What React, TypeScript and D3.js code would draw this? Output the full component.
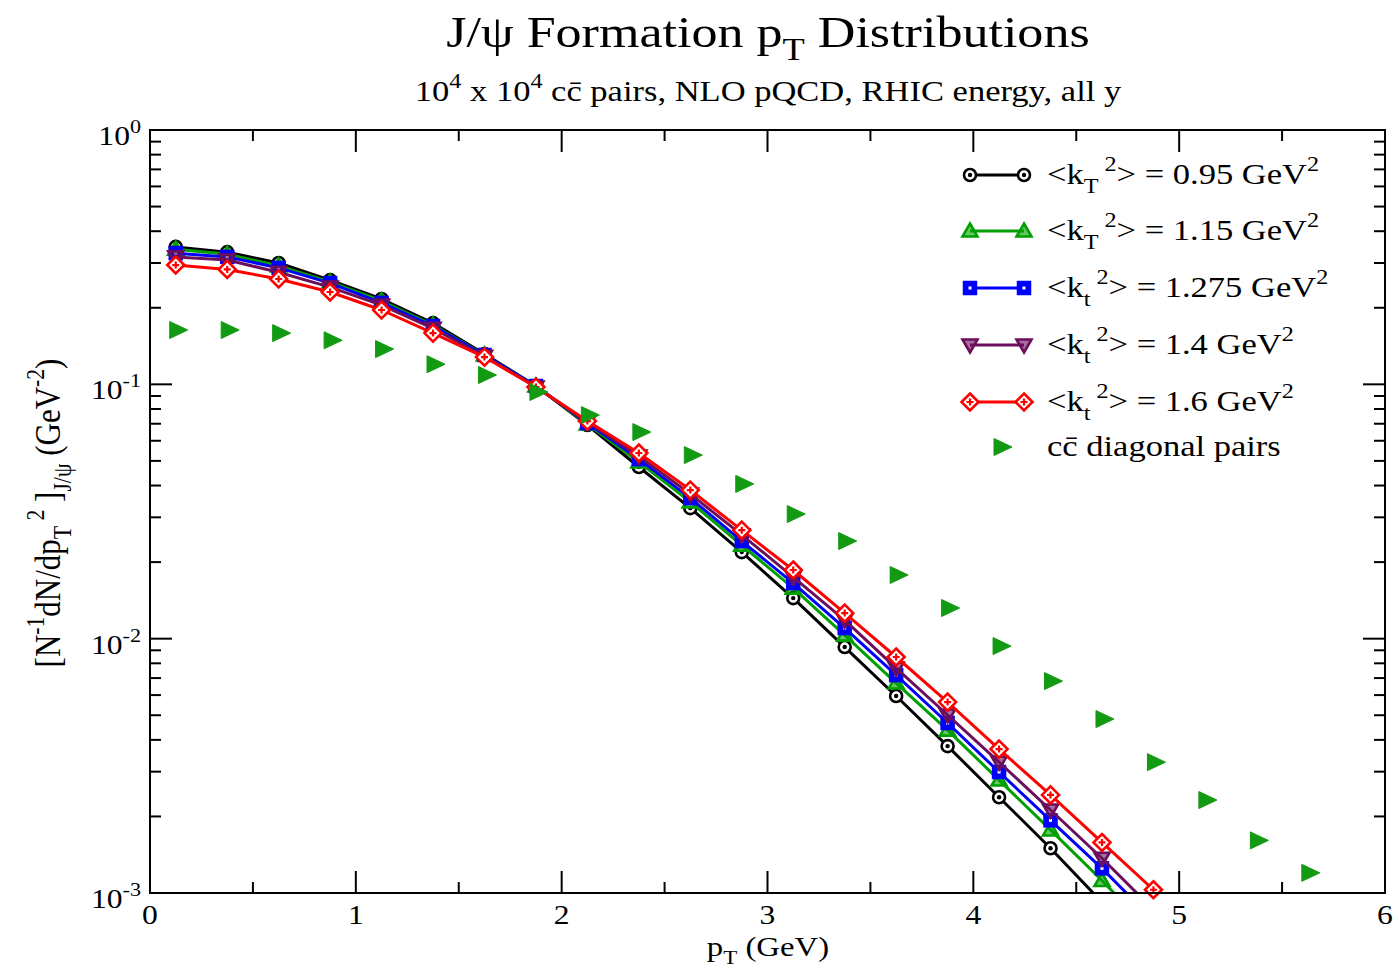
import React from "react";
import * as d3 from "d3";

// pT bin centres (GeV)
const PT = [0.125, 0.375, 0.625, 0.875, 1.125, 1.375, 1.625, 1.875, 2.125, 2.375,
  2.625, 2.875, 3.125, 3.375, 3.625, 3.875, 4.125, 4.375, 4.625, 4.875,
  5.125, 5.375, 5.625];

// J/psi formation spectra for several <kT^2> values
const KT095 = [0.347, 0.331, 0.300, 0.257, 0.2165, 0.174, 0.1316, 0.0985, 0.0692, 0.0473,
  0.0326, 0.0219, 0.01444, 0.00927, 0.00595, 0.00378, 0.00238, 0.00150, 0.00092];
const KT115 = [0.340, 0.325, 0.292, 0.2525, 0.2126, 0.171, 0.1304, 0.0985, 0.0698, 0.0495,
  0.0345, 0.0233, 0.0158, 0.01033, 0.00669, 0.00437, 0.00278, 0.00177, 0.00112, 0.00069];
const KT1275 = [0.328, 0.317, 0.287, 0.250, 0.209, 0.1695, 0.1304, 0.0985, 0.0704, 0.0508,
  0.0357, 0.0242, 0.01654, 0.01101, 0.00719, 0.00466, 0.00299, 0.00193, 0.00125, 0.00078];
const KT14 = [0.317, 0.308, 0.276, 0.241, 0.205, 0.166, 0.129, 0.0976, 0.0711, 0.0522,
  0.0370, 0.0256, 0.01747, 0.01183, 0.00766, 0.00501, 0.00327, 0.00212, 0.00137, 0.00086];
const KT16 = [0.2945, 0.283, 0.2595, 0.2307, 0.196, 0.159, 0.128, 0.0976, 0.0717, 0.0537,
  0.0384, 0.0267, 0.01862, 0.01261, 0.00847, 0.00563, 0.00368, 0.00243, 0.00158, 0.00103];
// c-cbar diagonal pairs
const DIAG = [0.1635, 0.1635, 0.159, 0.149, 0.1376, 0.120, 0.1088, 0.0933, 0.0757, 0.0649,
  0.0527, 0.0406, 0.0309, 0.0242, 0.0178, 0.0132, 0.00935, 0.00681, 0.00483, 0.00327,
  0.00232, 0.00161, 0.00120];

const X_TICKS = [0, 1, 2, 3, 4, 5, 6];
const X_MINOR = [0.5, 1.5, 2.5, 3.5, 4.5, 5.5];
const Y_DECADES = [1e-3, 1e-2, 1e-1, 1];
const Y_EXP = ["-3", "-2", "-1", "0"];

type Seg = [string, number]; // 1 = superscript, -1 = subscript, 0 = normal

const KT_LABELS: Seg[][] = [
  [["<k", 0], ["T", -1], [" 2", 1], ["> = 0.95 GeV", 0], ["2", 1]],
  [["<k", 0], ["T", -1], [" 2", 1], ["> = 1.15 GeV", 0], ["2", 1]],
  [["<k", 0], ["t", -1], [" 2", 1], ["> = 1.275 GeV", 0], ["2", 1]],
  [["<k", 0], ["t", -1], [" 2", 1], ["> = 1.4 GeV", 0], ["2", 1]],
  [["<k", 0], ["t", -1], [" 2", 1], ["> = 1.6 GeV", 0], ["2", 1]],
];
const DIAG_LABEL: Seg[] = [["cc\u0304 diagonal pairs", 0]];

const SERIES = [
  { values: KT095, color: "#000000", symbol: "circle" },
  { values: KT115, color: "#00a000", symbol: "up" },
  { values: KT1275, color: "#0000ff", symbol: "square" },
  { values: KT14, color: "#6b0f5c", symbol: "down" },
  { values: KT16, color: "#ff0000", symbol: "diamond" },
];
const DIAG_COLOR = "#139a13";

const W = 1395, H = 970;
const L = 150, R = 1385, T = 130, B = 893;
const SX = 1.17; // horizontal text stretch
const FONT = "'Liberation Serif', 'Times New Roman', serif";

function Rich({ segs, size }: { segs: Seg[]; size: number }) {
  let cur = 0;
  return (
    <>
      {segs.map(([t, m], i) => {
        const target = m === 1 ? -0.45 * size : m === -1 ? 0.3 * size : 0;
        const dy = target - cur;
        cur = target;
        return (
          <tspan key={i} dy={dy} fontSize={m ? size * 0.7 : size}>
            {t}
          </tspan>
        );
      })}
    </>
  );
}

function Label({ x, y, segs, size, anchor = "start", rotate = false }:
  { x: number; y: number; segs: Seg[]; size: number; anchor?: string; rotate?: boolean }) {
  const tr = `translate(${x},${y}) scale(${SX},1)${rotate ? " rotate(-90)" : ""}`;
  return (
    <g transform={tr}>
      <text x={0} y={0} textAnchor={anchor} fontFamily={FONT} fontSize={size} fill="#000">
        <Rich segs={segs} size={size} />
      </text>
    </g>
  );
}

function Marker({ x, y, symbol, color }: { x: number; y: number; symbol: string; color: string }) {
  const sw = 2.6;
  if (symbol === "circle") {
    return (
      <g>
        <circle cx={x} cy={y} r={6} fill="#fff" stroke={color} strokeWidth={sw} />
        <circle cx={x} cy={y} r={2.2} fill={color} />
      </g>
    );
  }
  if (symbol === "square") {
    return (
      <g>
        <rect x={x - 6.5} y={y - 6.5} width={13} height={13} fill={color} stroke={color} strokeWidth={1.5} />
        <rect x={x - 1.5} y={y - 1.5} width={3} height={3} fill="#fff" />
      </g>
    );
  }
  if (symbol === "diamond") {
    return (
      <g>
        <path d={`M${x},${y - 8.5}L${x + 8.5},${y}L${x},${y + 8.5}L${x - 8.5},${y}Z`} fill="#fff" stroke={color} strokeWidth={sw} />
        <path d={`M${x - 3.5},${y}H${x + 3.5}M${x},${y - 3.5}V${y + 3.5}`} stroke={color} strokeWidth={2.2} />
      </g>
    );
  }
  if (symbol === "up") {
    return (
      <path d={`M${x},${y - 7.5}L${x + 7.5},${y + 5.5}L${x - 7.5},${y + 5.5}Z`} fill={color} fillOpacity={0.6} stroke={color} strokeWidth={sw} />
    );
  }
  if (symbol === "down") {
    return (
      <path d={`M${x},${y + 7.5}L${x + 7.5},${y - 5.5}L${x - 7.5},${y - 5.5}Z`} fill={color} fillOpacity={0.6} stroke={color} strokeWidth={sw} />
    );
  }
  // right-pointing triangle
  return (
    <path d={`M${x - 6},${y - 8.5}L${x + 12},${y}L${x - 6},${y + 8.5}Z`} fill={color} stroke={color} strokeWidth={1} />
  );
}

export default function App() {
  const x = d3.scaleLinear().domain([0, 6]).range([L, R]);
  const y = d3.scaleLog().domain([1e-3, 1]).range([B, T]);
  const line = d3.line<[number, number]>().x((d) => x(d[0])).y((d) => y(d[1]));

  const yMinor: number[] = [];
  [1e-3, 1e-2, 1e-1].forEach((dec) => {
    [2, 3, 4, 5, 6, 7, 8, 9].forEach((k) => yMinor.push(dec * k));
  });

  const legendRows = [175, 231, 288, 345, 402];

  return (
    <svg width={W} height={H} style={{ position: "absolute", left: 0, top: 0, background: "#fff" }}>
      <defs>
        <clipPath id="plot-area">
          <rect x={L} y={T} width={R - L} height={B - T} />
        </clipPath>
      </defs>
      <rect x={0} y={0} width={W} height={H} fill="#fff" />

      {/* titles */}
      <Label x={768} y={47} size={44.5} anchor="middle"
        segs={[["J/ψ Formation p", 0], ["T", -1], [" Distributions", 0]]} />
      <Label x={768} y={101} size={29.5} anchor="middle"
        segs={[["10", 0], ["4", 1], [" x 10", 0], ["4", 1], [" cc\u0304 pairs, NLO pQCD, RHIC energy, all y", 0]]} />

      {/* data: each set draws its line, then its symbols */}
      {SERIES.map((s, i) => (
        <g key={i}>
          <path d={line(s.values.map((v, j) => [PT[j], v] as [number, number])) || ""}
            fill="none" stroke={s.color} strokeWidth={3} strokeLinejoin="round" clipPath="url(#plot-area)" />
          {s.values.map((v, j) => v >= 1e-3 ? (
            <Marker key={j} x={x(PT[j])} y={y(v)} symbol={s.symbol} color={s.color} />
          ) : null)}
        </g>
      ))}
      {DIAG.map((v, j) => (
        <Marker key={j} x={x(PT[j])} y={y(v)} symbol="right" color={DIAG_COLOR} />
      ))}

      {/* frame */}
      <rect x={L} y={T} width={R - L} height={B - T} fill="none" stroke="#000" strokeWidth={2} />

      {/* x ticks (bottom and top, inward) */}
      {X_TICKS.map((t) => (
        <g key={t}>
          <line x1={x(t)} x2={x(t)} y1={B} y2={B - 22} stroke="#000" strokeWidth={2} />
          <line x1={x(t)} x2={x(t)} y1={T} y2={T + 22} stroke="#000" strokeWidth={2} />
          <Label x={x(t)} y={924} size={27} anchor="middle" segs={[[String(t), 0]]} />
        </g>
      ))}
      {X_MINOR.map((t) => (
        <g key={t}>
          <line x1={x(t)} x2={x(t)} y1={B} y2={B - 11} stroke="#000" strokeWidth={2} />
          <line x1={x(t)} x2={x(t)} y1={T} y2={T + 11} stroke="#000" strokeWidth={2} />
        </g>
      ))}

      {/* y ticks (left and right, inward) */}
      {Y_DECADES.map((t, i) => (
        <g key={t}>
          <line x1={L} x2={L + 22} y1={y(t)} y2={y(t)} stroke="#000" strokeWidth={2} />
          <line x1={R} x2={R - 22} y1={y(t)} y2={y(t)} stroke="#000" strokeWidth={2} />
          <Label x={141} y={y(t) + 15} size={27} anchor="end" segs={[["10", 0], [Y_EXP[i], 1]]} />
        </g>
      ))}
      {yMinor.map((t, i) => (
        <g key={i}>
          <line x1={L} x2={L + 11} y1={y(t)} y2={y(t)} stroke="#000" strokeWidth={2} />
          <line x1={R} x2={R - 11} y1={y(t)} y2={y(t)} stroke="#000" strokeWidth={2} />
        </g>
      ))}

      {/* axis labels */}
      <Label x={768} y={956} size={28} anchor="middle" segs={[["p", 0], ["T", -1], [" (GeV)", 0]]} />
      <Label x={60} y={513} size={31} anchor="middle" rotate
        segs={[["[N", 0], ["-1", 1], ["dN/dp", 0], ["T", -1], [" 2", 1], [" ]", 0], ["J/ψ", -1], [" (GeV", 0], ["-2", 1], [")", 0]]} />

      {/* legend */}
      {SERIES.map((s, i) => (
        <g key={i}>
          <line x1={970} x2={1024} y1={legendRows[i]} y2={legendRows[i]} stroke={s.color} strokeWidth={3} />
          <Marker x={970} y={legendRows[i]} symbol={s.symbol} color={s.color} />
          <Marker x={1024} y={legendRows[i]} symbol={s.symbol} color={s.color} />
          <Label x={1047} y={legendRows[i] + 9} size={29.5} segs={KT_LABELS[i]} />
        </g>
      ))}
      <Marker x={1000} y={447} symbol="right" color={DIAG_COLOR} />
      <Label x={1047} y={456} size={29.5} segs={DIAG_LABEL} />
    </svg>
  );
}
